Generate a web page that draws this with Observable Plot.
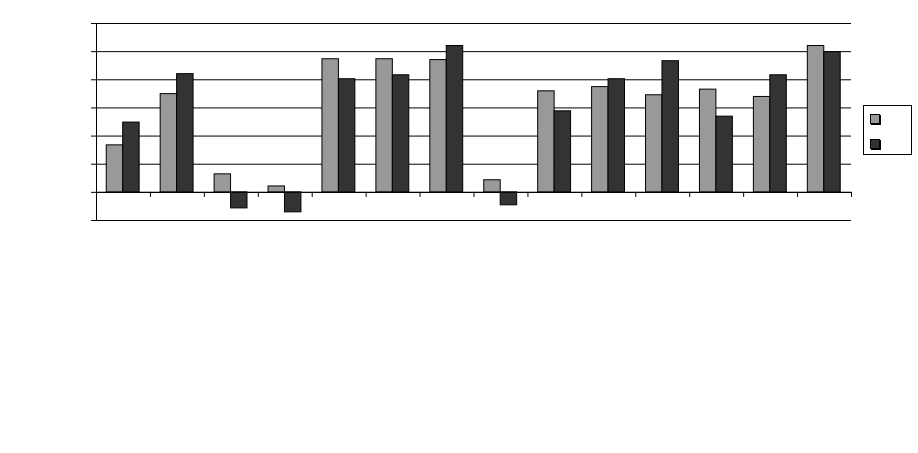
<!DOCTYPE html>
<html>
<head>
<meta charset="utf-8">
<script src="https://cdn.jsdelivr.net/npm/d3@7"></script>
<script src="https://cdn.jsdelivr.net/npm/@observablehq/plot@0.6"></script>
<style>
  html, body { margin: 0; padding: 0; background: #fff; }
  #wrap { position: relative; width: 918px; height: 453px; }
  #legend { position: absolute; left: 863px; top: 105px; width: 49px; height: 50px;
            border: 1px solid #000; background: #fff; box-sizing: border-box; }
  .sw { position: absolute; left: 6px; width: 8px; height: 8px; border: 1px solid #000;
        box-shadow: 1px 1px 0 #000; }
</style>
</head>
<body>
<div id="wrap">
  <div id="chart"></div>
  <div id="legend">
    <div class="sw" style="top:8px;background:#999999"></div>
    <div class="sw" style="top:33px;background:#333333"></div>
  </div>
</div>
<script>
const categories = ["1","2","3","4","5","6","7","8","9","10","11","12","13","14"];
const seriesNames = ["Series 1", "Series 2"];
const series1 = [1.67, 3.49, 0.64, 0.21, 4.73, 4.73, 4.70, 0.43, 3.59, 3.74, 3.45, 3.65, 3.39, 5.20];
const series2 = [2.48, 4.20, -0.57, -0.71, 4.02, 4.16, 5.20, -0.46, 2.88, 4.02, 4.66, 2.69, 4.16, 4.98];
const yTicks = [-1, 0, 1, 2, 3, 4, 5, 6];

const rows = [];
categories.forEach((c, i) => {
  rows.push({cat: c, i, s: 0, series: seriesNames[0], value: series1[i]});
  rows.push({cat: c, i, s: 1, series: seriesNames[1], value: series2[i]});
});
const groupPad = 0.19, barW = 0.305;
const bounds = d3.range(0, categories.length + 1);

const chart = Plot.plot({
  width: 918,
  height: 453,
  marginLeft: 96,
  marginRight: 67,
  marginTop: 23,
  marginBottom: 233,
  style: {background: "white", color: "black"},
  x: {domain: [0, categories.length], axis: null},
  y: {domain: [-1, 6], axis: null},
  color: {domain: seriesNames, range: ["#999999", "#333333"]},
  marks: [
    Plot.ruleY(yTicks, {stroke: "black", strokeWidth: 1}),
    Plot.axisY({ticks: yTicks, tickSize: 5, tickFormat: () => "", label: null, stroke: "black", strokeOpacity: 1}),
    Plot.ruleX([0], {stroke: "black"}),
    Plot.ruleX(bounds, {y1: 0, y2: -0.18, stroke: "black"}),
    Plot.rectY(rows, {
      x1: d => d.i + groupPad + d.s * barW,
      x2: d => d.i + groupPad + (d.s + 1) * barW,
      y1: 0,
      y2: "value",
      fill: "series",
      stroke: "black",
      strokeWidth: 1
    }),
    Plot.ruleY([0], {stroke: "black"})
  ]
});
document.getElementById("chart").appendChild(chart);
</script>
</body>
</html>
